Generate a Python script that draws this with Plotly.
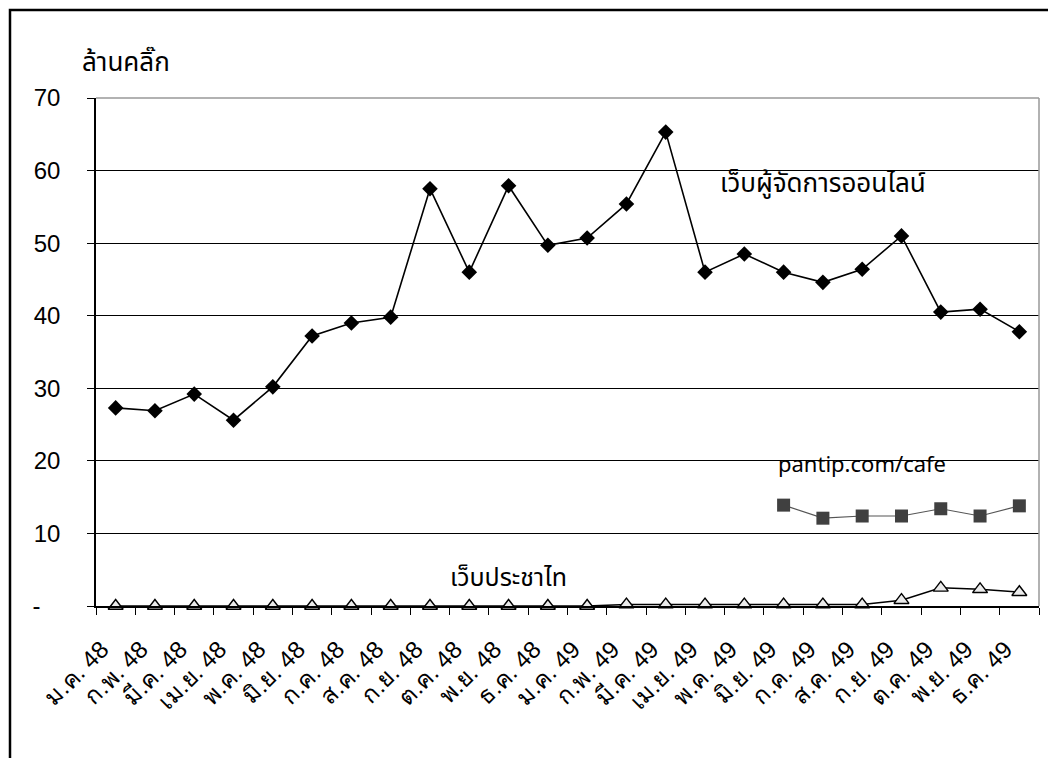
import plotly.graph_objects as go

months = ["ม.ค.", "ก.พ.", "มี.ค.", "เม.ย.", "พ.ค.", "มิ.ย.", "ก.ค.", "ส.ค.", "ก.ย.", "ต.ค.", "พ.ย.", "ธ.ค."]
categories = [f"{m} 48" for m in months] + [f"{m} 49" for m in months]

manager_online = [27.3, 26.9, 29.2, 25.6, 30.2, 37.2, 39.0, 39.8, 57.5, 46.0, 57.9, 49.7,
                  50.7, 55.4, 65.3, 46.0, 48.5, 46.0, 44.6, 46.4, 51.0, 40.5, 40.9, 37.8]
pantip_cafe = [None] * 17 + [13.9, 12.1, 12.4, 12.4, 13.4, 12.4, 13.8]
prachatai = [0] * 13 + [0.2, 0.2, 0.2, 0.2, 0.2, 0.2, 0.2, 0.8, 2.5, 2.3, 1.9]

y_ticks = [0, 10, 20, 30, 40, 50, 60, 70]
y_ticktext = ["-\u00a0\u00a0\u00a0", "10", "20", "30", "40", "50", "60", "70"]

label_font = "Liberation Sans, Arial, sans-serif"
thai_font = "Tahoma, Noto Sans Thai, Loma, Garuda, DejaVu Sans, sans-serif"

fig = go.Figure()
fig.add_trace(go.Scatter(
    x=categories, y=prachatai, mode="lines+markers", name="เว็บประชาไท",
    line=dict(color="black", width=1.5), cliponaxis=False,
    marker=dict(symbol="triangle-up", size=13, color="#ebebeb", line=dict(color="black", width=1.4)),
))
fig.add_trace(go.Scatter(
    x=categories, y=pantip_cafe, mode="lines+markers", name="pantip.com/cafe",
    line=dict(color="#555555", width=1.2),
    marker=dict(symbol="square", size=13, color="#404040"),
))
fig.add_trace(go.Scatter(
    x=categories, y=manager_online, mode="lines+markers", name="เว็บผู้จัดการออนไลน์",
    line=dict(color="black", width=1.6),
    marker=dict(symbol="diamond", size=12, color="black"),
))

fig.update_layout(
    width=1048, height=758,
    margin=dict(l=96, r=9, t=98, b=152),
    paper_bgcolor="white", plot_bgcolor="white",
    showlegend=False,
    font=dict(family=label_font, size=20, color="black"),
    xaxis=dict(
        type="category", range=[-0.5, 23.5],
        tickangle=-45, tickson="boundaries", ticks="outside", ticklen=7,
        tickcolor="black", showline=True, linecolor="black", linewidth=1.5,
        showgrid=False, tickfont=dict(family=label_font, size=24),
        ticklabelstandoff=18, ticklabelshift=-14,
    ),
    yaxis=dict(
        range=[0, 70], tickvals=y_ticks, ticktext=y_ticktext,
        ticks="outside", ticklen=7, tickcolor="black",
        showline=True, linecolor="black", linewidth=1.5,
        showgrid=True, gridcolor="black", gridwidth=1, zeroline=False,
        tickfont=dict(family=label_font, size=24),
        ticklabelstandoff=22,
    ),
    shapes=[
        dict(type="line", xref="paper", yref="paper", x0=0, x1=1, y0=1, y1=1,
             line=dict(color="#999999", width=1.5), layer="above"),
        dict(type="line", xref="paper", yref="paper", x0=1, x1=1, y0=0, y1=1,
             line=dict(color="#999999", width=1.5), layer="above"),
        dict(type="rect", xref="paper", yref="paper", x0=-0.0912, x1=1.05, y0=-0.35, y1=1.1732,
             line=dict(color="black", width=2.5), layer="above"),
    ],
    annotations=[
        dict(text="ล้านคลิ๊ก", xref="paper", yref="paper", x=-0.017, y=1.025,
             xanchor="left", yanchor="bottom", showarrow=False,
             font=dict(family=thai_font, size=26)),
        dict(text="เว็บผู้จัดการออนไลน์", xref="x", yref="y", x=categories[18], y=58.2,
             xanchor="center", yanchor="middle", showarrow=False,
             font=dict(family=thai_font, size=26)),
        dict(text="pantip.com/cafe", xref="x", yref="y", x=categories[19], y=19.3,
             xanchor="center", yanchor="middle", showarrow=False,
             font=dict(family=thai_font, size=22)),
        dict(text="เว็บประชาไท", xref="x", yref="y", x=categories[10], y=3.9,
             xanchor="center", yanchor="middle", showarrow=False,
             font=dict(family=thai_font, size=25)),
    ],
)

fig.write_html("out.html", config={"displayModeBar": False},
               post_script="document.body.style.margin='0';document.body.style.padding='0';")
